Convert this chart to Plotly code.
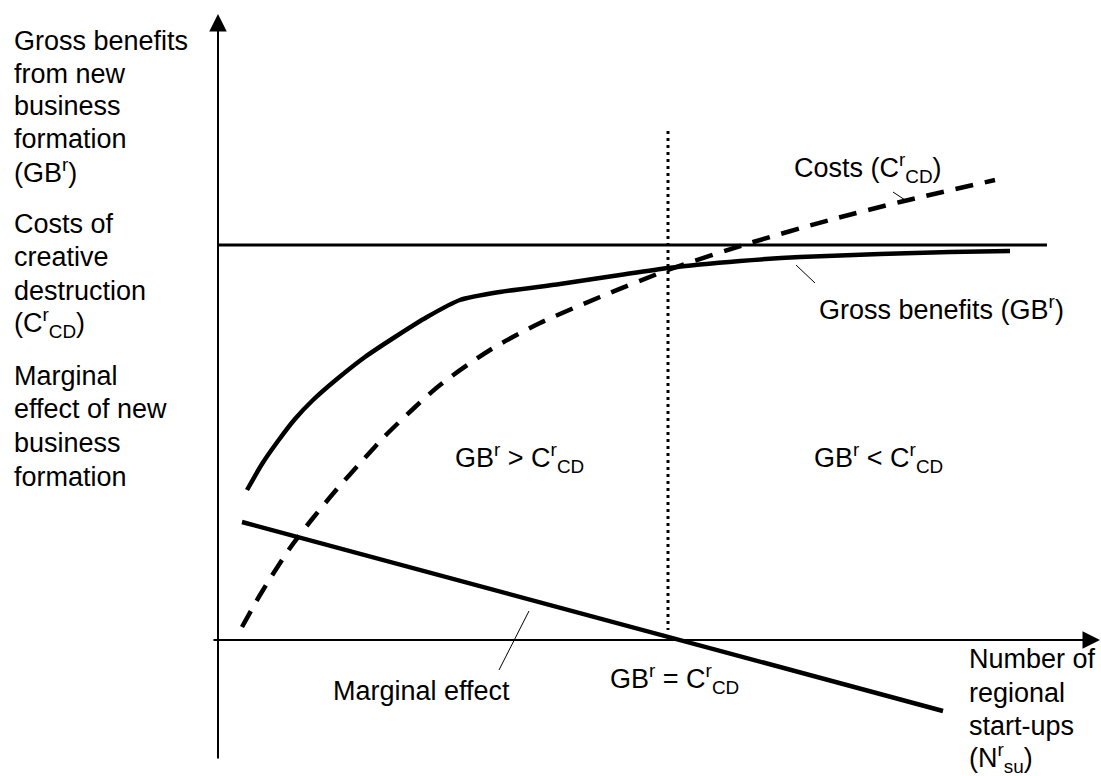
import plotly.graph_objects as go

# ---- data (abstract units: x = number of start-ups, y = value) ----
gb_x = [2.9, 4.4, 6.0, 7.7, 9.5, 11.9, 14.7, 17.7, 20.9, 24.2, 28.2, 34.2, 40.2, 45.0, 52.2, 58.2, 66.2, 73.2, 79.2]
gb_y = [15.0, 17.6, 19.9, 22.1, 24.0, 26.1, 28.3, 30.3, 32.3, 34.0, 34.8, 35.6, 36.5, 37.2, 37.9, 38.3, 38.6, 38.8, 38.9]

cost_x = [2.4, 4.2, 7.2, 9.5, 11.9, 14.5, 16.7, 19.5, 22.2, 27.2, 32.2, 38.2, 45.0, 53.2, 61.2, 68.2, 77.7]
cost_y = [1.3, 4.5, 9.2, 12.2, 15.1, 18.0, 20.4, 23.1, 25.5, 29.0, 31.7, 34.3, 37.0, 39.7, 42.0, 43.8, 46.0]

marg_x = [2.4, 72.5]
marg_y = [11.8, -7.1]

ceiling_x = [0.0, 82.9]
ceiling_y = [39.5, 39.5]

equil_x = [45.0, 45.0]
equil_y = [50.9, 1.0]

leader_cost_x, leader_cost_y = [67.5, 69.0], [44.8, 43.8]
leader_gb_x, leader_gb_y = [57.8, 59.7], [37.5, 35.7]
leader_marg_x, leader_marg_y = [31.1, 28.1], [2.9, -3.0]

left_lines = [
    ("Gross benefits", 59.9), ("from new", 56.6), ("business", 53.4), ("formation", 50.1),
    ("(GB<sup>r</sup>)", 46.9),
    ("Costs of", 41.6), ("creative", 38.3), ("destruction", 34.9),
    ("(C<sup>r</sup><sub>CD</sub>)", 31.7),
    ("Marginal", 26.4), ("effect of new", 23.1), ("business", 19.7), ("formation", 16.3),
]
xlab_lines = [("Number of", -1.9), ("regional", -5.3), ("start-ups", -8.6),
              ("(N<sup>r</sup><sub>su</sub>)", -11.8)]
labels = [  # text, x, y, anchor
    ("Costs (C<sup>r</sup><sub>CD</sub>)", 57.4, 47.2, "left"),
    ("Gross benefits (GB<sup>r</sup>)", 59.9, 33.2, "left"),
    ("GB<sup>r</sup> &gt; C<sup>r</sup><sub>CD</sub>", 23.5, 18.2, "left"),
    ("GB<sup>r</sup> &lt; C<sup>r</sup><sub>CD</sub>", 59.4, 18.2, "left"),
    ("GB<sup>r</sup> = C<sup>r</sup><sub>CD</sub>", 39.0, -3.9, "left"),
    ("Marginal effect", 29.4, -5.1, "right"),
]

FONT = dict(family="Arial, Liberation Sans, sans-serif", size=27, color="black")

fig = go.Figure()

def line(x, y, width, dash="solid"):
    fig.add_trace(go.Scatter(x=x, y=y, mode="lines", hoverinfo="skip", showlegend=False,
                             line=dict(color="black", width=width, dash=dash)))

line(ceiling_x, ceiling_y, 3)
line(equil_x, equil_y, 3, "3px,4px")
fig.add_trace(go.Scatter(x=gb_x, y=gb_y, mode="lines", showlegend=False, hoverinfo="skip",
                         line=dict(color="black", width=4.5, shape="spline", smoothing=0.6)))
fig.add_trace(go.Scatter(x=cost_x, y=cost_y, mode="lines", showlegend=False, hoverinfo="skip",
                         line=dict(color="black", width=4.5, dash="18px,12px", shape="spline", smoothing=0.8)))
line(marg_x, marg_y, 4.5)
line(leader_cost_x, leader_cost_y, 1)
line(leader_gb_x, leader_gb_y, 1)
line(leader_marg_x, leader_marg_y, 1)

annotations = []
# axes with arrowheads
annotations.append(dict(x=0, y=62.6, ax=0, ay=-12.0, xref="x", yref="y", axref="x", ayref="y",
                        text="", showarrow=True, arrowhead=2, arrowsize=1.75, arrowwidth=2,
                        arrowcolor="black", standoff=0))
annotations.append(dict(x=88.2, y=0, ax=-0.6, ay=0, xref="x", yref="y", axref="x", ayref="y",
                        text="", showarrow=True, arrowhead=2, arrowsize=1.75, arrowwidth=2,
                        arrowcolor="black", standoff=0))

for t, yy in left_lines:
    annotations.append(dict(x=-20.6, y=yy, text=t, showarrow=False, xanchor="left",
                            yanchor="middle", font=FONT))
for t, yy in xlab_lines:
    annotations.append(dict(x=74.9, y=yy, text=t, showarrow=False, xanchor="left",
                            yanchor="middle", font=FONT))
for t, xx, yy, anc in labels:
    annotations.append(dict(x=xx, y=yy, text=t, showarrow=False, xanchor=anc,
                            yanchor="middle", font=FONT))

fig.update_layout(
    width=1101, height=776, margin=dict(l=0, r=0, t=0, b=0),
    paper_bgcolor="white", plot_bgcolor="white",
    xaxis=dict(range=[-21.8, 88.3], visible=False, fixedrange=True),
    yaxis=dict(range=[-13.6, 64.0], visible=False, fixedrange=True),
    annotations=annotations, showlegend=False,
)

fig.write_html("out.html", config={"displayModeBar": False},
               post_script="document.body.style.margin='0px';document.body.style.overflow='hidden';")
